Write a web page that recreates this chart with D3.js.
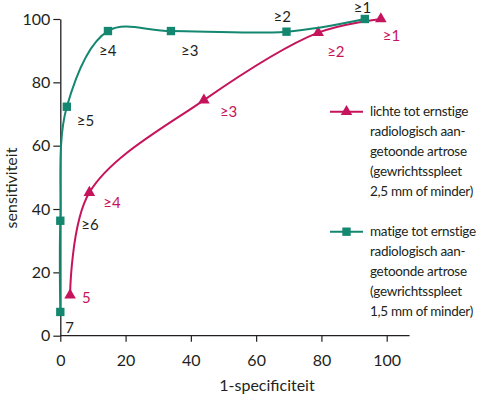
<!DOCTYPE html>
<html>
<head>
<meta charset="utf-8">
<script src="https://cdn.jsdelivr.net/npm/d3@7"></script>
<style>
    body { margin: 0; background: #fff; }
    svg { display: block; font-family: Lato, "Open Sans", sans-serif; }
</style>
</head>
<body>
<svg id="chart" width="500" height="399"></svg>
<script>
// ------------------------------------------------------------------ data
const xTicks = [0, 20, 40, 60, 80, 100];
const yTicks = [0, 20, 40, 60, 80, 100];

// matige tot ernstige (gewrichtsspleet 1,5 mm of minder)
const teal_x      = [0, 0, 2, 14.6, 33.9, 69.3, 93.3];
const teal_y      = [7.5, 36.3, 72.3, 96.2, 96.2, 96.0, 100];
const teal_labels = ['7', '≥6', '≥5', '≥4', '≥3', '≥2', '≥1'];

// lichte tot ernstige (gewrichtsspleet 2,5 mm of minder)
const pink_x      = [3.0, 8.9, 44.0, 79.0, 98.2];
const pink_y      = [12.8, 45.2, 74.4, 95.7, 100];
const pink_labels = ['5', '≥4', '≥3', '≥2', '≥1'];

const legend_pink = ['lichte tot ernstige', 'radiologisch aan-', 'getoonde artrose', '(gewrichtsspleet', '2,5 mm of minder)'];
const legend_teal = ['matige tot ernstige', 'radiologisch aan-', 'getoonde artrose', '(gewrichtsspleet', '1,5 mm of minder)'];

// ------------------------------------------------------------------ layout
const TEAL = '#13876f';
const PINK = '#c6145c';
const INK  = '#231f20';

// label offsets (px) from the marker centre
const teal_off = [[5, 21], [21, 9], [10, 19], [-9, 25], [10, 25], [-13, -10], [-11, -6]];
const pink_off = [[12, 8], [14, 15], [16, 17], [9, 24], [2, 22]];

const svg = d3.select('#chart');

const x = d3.scaleLinear().domain([0, 100]).range([60.3, 386.7]);
const y = d3.scaleLinear().domain([0, 100]).range([335.7, 19]);

/* ---------------------------------------------------------------- axes */
let gx = svg.append('g')
    .attr('transform', 'translate(0,' + y(0) + ')')
    .call(d3.axisBottom(x).tickValues(xTicks).tickSize(6).tickSizeOuter(0).tickPadding(13));
gx.select('.domain').attr('d', 'M' + x(0) + ',0H' + x(107));

let gy = svg.append('g')
    .attr('transform', 'translate(' + x(0) + ',0)')
    .call(d3.axisLeft(y).tickValues(yTicks).tickSize(7).tickSizeOuter(0).tickPadding(3));

[gx, gy].forEach((g) => {
    g.select('.domain').attr('stroke', INK).attr('stroke-width', 1.3);
    g.selectAll('.tick line').attr('stroke', INK).attr('stroke-width', 1.2);
    g.selectAll('.tick text')
        .attr('fill', INK)
        .attr('font-size', 16)
        .attr('font-family', 'Lato, sans-serif');
});

svg.append('text')
    .attr('x', 267).attr('y', 391)
    .attr('text-anchor', 'middle')
    .attr('font-size', 16).attr('fill', INK)
    .text('1-specificiteit');

svg.append('text')
    .attr('transform', 'translate(17,188) rotate(-90)')
    .attr('text-anchor', 'middle')
    .attr('font-size', 16).attr('fill', INK)
    .text('sensitiviteit');

/* ---------------------------------------------------------------- series */
let line = d3.line()
    .x((d) => x(d.x))
    .y((d) => y(d.y))
    .curve(d3.curveCatmullRom.alpha(0.5));

let build = (xs, ys, labels, offs) => xs.map((v, i) => ({ x: v, y: ys[i], label: labels[i], off: offs[i] }));

let series = [
    { code: 'pink', color: PINK, labelColor: PINK, symbol: d3.symbolTriangle, size: 58,
      data: build(pink_x, pink_y, pink_labels, pink_off) },
    { code: 'teal', color: TEAL, labelColor: INK, symbol: d3.symbolSquare, size: 70,
      data: build(teal_x, teal_y, teal_labels, teal_off) }
];

series.forEach((s) => {
    let g = svg.append('g').attr('class', s.code);

    g.append('path')
        .attr('d', line(s.data))
        .attr('fill', 'none')
        .attr('stroke', s.color)
        .attr('stroke-width', 2);

    g.selectAll('path.marker')
        .data(s.data)
        .enter()
        .append('path')
        .attr('class', 'marker')
        .attr('transform', (d) => 'translate(' + x(d.x) + ',' + y(d.y) + ')')
        .attr('d', d3.symbol().type(s.symbol).size(s.size))
        .attr('fill', s.color);

    g.selectAll('text.lbl')
        .data(s.data)
        .enter()
        .append('text')
        .attr('class', 'lbl')
        .attr('x', (d) => x(d.x) + d.off[0])
        .attr('y', (d) => y(d.y) + d.off[1])
        .attr('font-size', 15)
        .attr('fill', s.labelColor)
        .text((d) => d.label);
});

/* ---------------------------------------------------------------- legend */
let legend = [
    { color: PINK, symbol: d3.symbolTriangle, size: 58, lines: legend_pink, y: 111.7 },
    { color: TEAL, symbol: d3.symbolSquare, size: 70, lines: legend_teal, y: 231.7 }
];

legend.forEach((l) => {
    let g = svg.append('g').attr('transform', 'translate(330,' + l.y + ')');
    g.append('line')
        .attr('x1', 0).attr('x2', 33)
        .attr('stroke', l.color).attr('stroke-width', 2);
    g.append('path')
        .attr('transform', 'translate(16.5,0)')
        .attr('d', d3.symbol().type(l.symbol).size(l.size))
        .attr('fill', l.color);
    g.selectAll('text')
        .data(l.lines)
        .enter()
        .append('text')
        .attr('x', 40)
        .attr('y', (d, i) => 4 + i * 20)
        .attr('font-size', 13.5)
        .attr('letter-spacing', -0.3)
        .attr('fill', INK)
        .text((d) => d);
});
</script>
</body>
</html>
